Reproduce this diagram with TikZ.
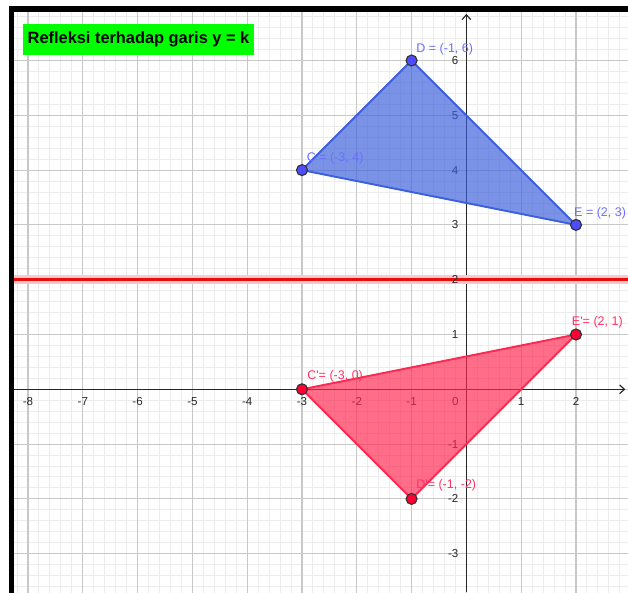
\documentclass[tikz,border=0pt]{standalone}
\usepackage{fontspec}
\setmainfont{Liberation Sans}
\usetikzlibrary{positioning, arrows.meta}
\usepackage{xcolor}

\definecolor{ggblue}{RGB}{60,96,220}
\definecolor{ggbluept}{RGB}{77,77,255}
\definecolor{ggbluelbl}{RGB}{110,110,255}
\definecolor{ggred}{RGB}{255,40,80}
\definecolor{ggredpt}{RGB}{255,0,51}
\definecolor{ggredlbl}{RGB}{255,51,102}
\definecolor{gridmajor}{RGB}{200,200,200}
\definecolor{gridminor}{RGB}{236,236,236}
\definecolor{titlegreen}{RGB}{0,255,0}

\begin{document}
\begin{tikzpicture}[
  bluept/.style={circle, draw=black!80, line width=0.6pt, fill=ggbluept, inner sep=0pt, minimum size=2mm},
  redpt/.style={circle, draw=black!80, line width=0.6pt, fill=ggredpt, inner sep=0pt, minimum size=2mm},
  ptlabel/.style={anchor=base west, inner sep=0pt, font=\fontsize{6.5}{7}\selectfont},
  xtick/.style={anchor=north, inner sep=0pt, text=black!85, font=\fontsize{6}{7}\selectfont},
  ytick/.style={anchor=east, inner sep=0pt, text=black!85, font=\fontsize{6}{7}\selectfont}
]
  \useasboundingbox (-8.511,-3.699) rectangle (2.949,7.104);
  \fill[white] (-8.511,-3.699) rectangle (2.949,7.104);

  % grid
  \begin{scope}
    \clip (-8.255,-3.699) rectangle (2.949,6.886);
    \draw[gridminor, line width=0.5pt] (-8.6,-3.8) grid[step=0.2] (3,7);
    \draw[gridmajor, line width=0.55pt] (-8.6,-3.8) grid[step=1] (3,7);
  \end{scope}

  % axes
  \coordinate (xaxL) at (-8.255,0);
  \coordinate (xaxR) at (2.90,0);
  \coordinate (yaxB) at (0,-3.699);
  \coordinate (yaxT) at (0,6.85);
  \draw[-{Straight Barb[length=2.5pt, width=4.5pt]}, black!85, line width=0.6pt] (xaxL) -- (xaxR);
  \draw[-{Straight Barb[length=2.5pt, width=4.5pt]}, black!85, line width=0.6pt] (yaxB) -- (yaxT);

  % line y = 2
  \coordinate (kL) at (-8.255,2);
  \coordinate (kR) at (2.949,2);
  \draw[line width=4.6pt, red!22] (kL) -- (kR);
  \draw[line width=1.6pt, red!90!black!95] (kL) -- (kR);

  \foreach \x in {-8,...,-1,1,2}
    \node[xtick] (xl\x) at (\x,-0.14) {\x};
  \node[xtick] (xl0) at (-0.2,-0.14) {0};
  \foreach \y in {-3,-2,-1,1,2,3,4,5,6}
    \node[ytick] (yl\y) at (-0.14,\y) {\y};

  % triangles
  \coordinate (C) at (-3,4);
  \coordinate (D) at (-1,6);
  \coordinate (E) at (2,3);
  \coordinate (C') at (-3,0);
  \coordinate (D') at (-1,-2);
  \coordinate (E') at (2,1);
  \filldraw[draw=ggblue, fill=ggblue, fill opacity=0.68, line width=1pt, line join=round] (C) -- (D) -- (E) -- cycle;
  \filldraw[draw=ggred, fill=ggred, fill opacity=0.68, line width=1pt, line join=round] (C') -- (D') -- (E') -- cycle;

  \node[bluept] (Cdot) at (C) {};
  \node[bluept] (Ddot) at (D) {};
  \node[bluept] (Edot) at (E) {};
  \node[redpt] (C'dot) at (C') {};
  \node[redpt] (D'dot) at (D') {};
  \node[redpt] (E'dot) at (E') {};

  \node[ptlabel, text=ggbluelbl] (Clbl) at (-2.92,4.15) {C = (-3, 4)};
  \node[ptlabel, text=ggbluelbl] (Dlbl) at (-0.92,6.14) {D = (-1, 6)};
  \node[ptlabel, text=ggbluelbl] (Elbl) at (1.96,3.16) {E = (2, 3)};
  \node[ptlabel, text=ggredlbl] (C'lbl) at (-2.91,0.17) {C\textquotesingle= (-3, 0)};
  \node[ptlabel, text=ggredlbl] (D'lbl) at (-0.92,-1.81) {D\textquotesingle= (-1, -2)};
  \node[ptlabel, text=ggredlbl] (E'lbl) at (1.92,1.17) {E\textquotesingle= (2, 1)};

  % title
  \node[fill=titlegreen, minimum width=4.22cm, minimum height=0.57cm, inner sep=0pt,
        font=\fontsize{8.5}{10}\selectfont\bfseries] (title) at (-5.983,6.384) {Refleksi terhadap garis y = k};

  % frame
  \fill[black] (-8.347,-3.8) rectangle (-8.255,6.995);
  \fill[black] (-8.347,6.886) rectangle (3,6.995);
\end{tikzpicture}
\end{document}
